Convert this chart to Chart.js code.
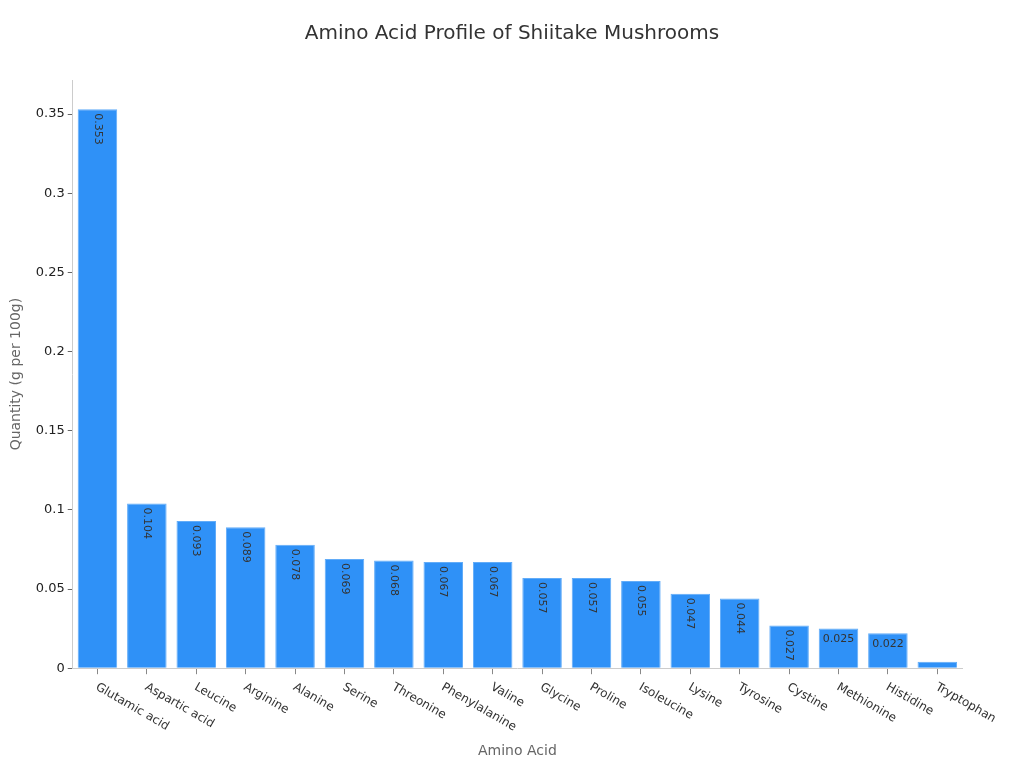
<!DOCTYPE html>
<html>
<head>
<meta charset="utf-8">
<script src="https://cdn.jsdelivr.net/npm/chart.js@4.4.1/dist/chart.umd.min.js"></script>
<style>
  body { margin: 0; background: #fff; }
  #wrap { width: 1024px; height: 768px; }
</style>
</head>
<body>
<div id="wrap"><canvas id="barChart"></canvas></div>
<script>
// data
const aminoAcids = ['Glutamic acid', 'Aspartic acid', 'Leucine', 'Arginine', 'Alanine', 'Serine',
  'Threonine', 'Phenylalanine', 'Valine', 'Glycine', 'Proline', 'Isoleucine', 'Lysine',
  'Tyrosine', 'Cystine', 'Methionine', 'Histidine', 'Tryptophan'];
const quantities = [0.353, 0.104, 0.093, 0.089, 0.078, 0.069, 0.068, 0.067, 0.067,
  0.057, 0.057, 0.055, 0.047, 0.044, 0.027, 0.025, 0.022, 0.004];
const yTicks = [0, 0.05, 0.1, 0.15, 0.2, 0.25, 0.3, 0.35];
const chartTitle = 'Amino Acid Profile of Shiitake Mushrooms';

const FONT = 'DejaVu Sans';

// title centred on the whole page
const pageTitle = {
  id: 'pageTitle',
  afterDraw(chart) {
    const ctx = chart.ctx;
    ctx.save();
    ctx.font = '20px "' + FONT + '"';
    ctx.fillStyle = '#333';
    ctx.textAlign = 'center';
    ctx.textBaseline = 'middle';
    ctx.fillText(chartTitle, chart.width / 2, 34);
    ctx.restore();
  }
};

// value labels inside the bars (rotated when there is room, flat otherwise)
const valueLabels = {
  id: 'valueLabels',
  afterDatasetsDraw(chart) {
    const ctx = chart.ctx;
    const meta = chart.getDatasetMeta(0);
    ctx.save();
    ctx.font = '11px "' + FONT + '"';
    ctx.fillStyle = '#333';
    meta.data.forEach((bar, i) => {
      const txt = String(quantities[i]);
      const w = ctx.measureText(txt).width;
      const h = bar.base - bar.y;
      if (h >= w + 10) {
        ctx.save();
        ctx.translate(bar.x, bar.y + 4);
        ctx.rotate(Math.PI / 2);
        ctx.textAlign = 'left';
        ctx.textBaseline = 'middle';
        ctx.fillText(txt, 0, 0);
        ctx.restore();
      } else if (h >= 16 && bar.width >= w + 4) {
        ctx.textAlign = 'center';
        ctx.textBaseline = 'top';
        ctx.fillText(txt, bar.x, bar.y + 5);
      }
    });
    ctx.restore();
  }
};

// x labels slanting down to the right
const slantLabels = {
  id: 'slantLabels',
  afterDraw(chart) {
    const ctx = chart.ctx;
    const xs = chart.scales.x;
    ctx.save();
    ctx.font = '12px "' + FONT + '"';
    ctx.fillStyle = '#333';
    ctx.textAlign = 'left';
    ctx.textBaseline = 'middle';
    aminoAcids.forEach((name, i) => {
      const x = xs.getPixelForValue(i);
      ctx.save();
      ctx.translate(x - 1, xs.top + 18);
      ctx.rotate(Math.PI / 6);
      ctx.fillText(name, 0, 0);
      ctx.restore();
    });
    ctx.restore();
  }
};

new Chart(document.getElementById('barChart'), {
  type: 'bar',
  data: {
    labels: aminoAcids,
    datasets: [{
      data: quantities,
      backgroundColor: '#2f91f7',
      borderColor: '#62acf8',
      borderWidth: 1,
      barPercentage: 0.8,
      categoryPercentage: 1
    }]
  },
  options: {
    responsive: true,
    maintainAspectRatio: false,
    animation: false,
    layout: { padding: { left: 8, right: 62, top: 80, bottom: 8 } },
    plugins: {
      legend: { display: false },
      tooltip: { enabled: false },
      title: { display: false }
    },
    scales: {
      x: {
        grid: { display: true, offset: false, drawOnChartArea: false, tickLength: 6, color: '#888' },
        border: { color: '#ccc' },
        ticks: { display: false },
        title: {
          display: true,
          text: 'Amino Acid',
          color: '#666',
          font: { family: FONT, size: 14 },
          padding: { top: 69, bottom: 0 }
        }
      },
      y: {
        min: 0,
        max: 0.3715,
        afterBuildTicks: axis => { axis.ticks = yTicks.map(v => ({ value: v })); },
        grid: { display: true, drawOnChartArea: false, tickLength: 5, color: '#666' },
        border: { color: '#ccc' },
        ticks: {
          color: '#222',
          font: { family: FONT, size: 13 },
          padding: 3,
          callback: v => String(v)
        },
        title: {
          display: true,
          text: 'Quantity (g per 100g)',
          color: '#666',
          font: { family: FONT, size: 14 },
          padding: { top: 0, bottom: 8 }
        }
      }
    }
  },
  plugins: [valueLabels, slantLabels, pageTitle]
});
</script>
</body>
</html>
